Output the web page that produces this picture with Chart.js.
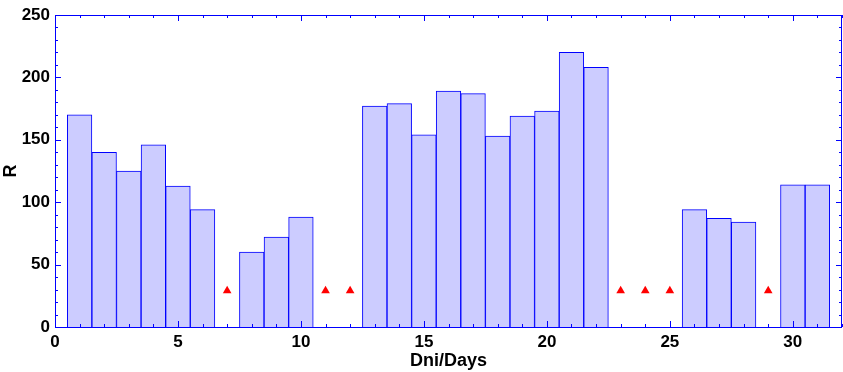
<!DOCTYPE html>
<html>
<head>
<meta charset="utf-8">
<script src="https://cdn.jsdelivr.net/npm/chart.js@4.4.1/dist/chart.umd.min.js"></script>
<style>
  html, body { margin: 0; padding: 0; background: #fff; }
  #wrap { width: 843px; height: 372px; }
</style>
</head>
<body>
<div id="wrap"><canvas id="chart" width="843" height="372"></canvas></div>
<script>
// データ
const DAYS = [1, 2, 3, 4, 5, 6, 8, 9, 10, 13, 14, 15, 16, 17, 18, 19, 20, 21, 22, 26, 27, 28, 30, 31];
const R_VALUES = [170, 140, 125, 146, 113, 94, 60, 72, 88, 177, 179, 154, 189, 187, 153, 169, 173, 220, 208, 94, 87, 84, 114, 114];
const MISSING_DAYS = [7, 11, 12, 23, 24, 25, 29];
const MISSING_LEVEL = [29, 29, 29, 29, 29, 29, 29];
const X_TICKS = [0, 5, 10, 15, 20, 25, 30];
const Y_TICKS = [0, 50, 100, 150, 200, 250];

const BLUE = '#0000ff';
const FONT = "'Liberation Sans', Arial, sans-serif";

// 枠と内向きの目盛り
const framePlugin = {
    id: 'frame',
    afterDatasetsDraw(chart) {
        const { ctx, chartArea: a, scales: { x, y } } = chart;
        ctx.save();
        ctx.strokeStyle = BLUE;
        ctx.lineWidth = 1;
        ctx.beginPath();
        for (let v = 0; v <= 32; v++) {
            const px = Math.round(x.getPixelForValue(v)) + 0.5;
            const len = v % 5 === 0 ? 6 : 3;
            ctx.moveTo(px, a.bottom); ctx.lineTo(px, a.bottom - len);
            ctx.moveTo(px, a.top); ctx.lineTo(px, a.top + len);
        }
        for (let v = 0; v <= 250; v += 10) {
            const py = Math.round(y.getPixelForValue(v)) + 0.5;
            const len = v % 50 === 0 ? 6 : 3;
            ctx.moveTo(a.left, py); ctx.lineTo(a.left + len, py);
            ctx.moveTo(a.right, py); ctx.lineTo(a.right - len, py);
        }
        ctx.stroke();
        ctx.strokeRect(Math.round(a.left) + 0.5, Math.round(a.top) + 0.5,
            Math.round(a.right - a.left) - 1, Math.round(a.bottom - a.top));
        ctx.restore();
    }
};

new Chart(document.getElementById('chart'), {
    data: {
        datasets: [
            {
                type: 'bar',
                data: DAYS.map((d, i) => ({ x: d, y: R_VALUES[i] })),
                backgroundColor: '#ccccff',
                borderColor: BLUE,
                borderWidth: 1,
                barPercentage: 1,
                categoryPercentage: 1,
                order: 2
            },
            {
                type: 'scatter',
                data: MISSING_DAYS.map((d, i) => ({ x: d, y: MISSING_LEVEL[i] })),
                pointStyle: 'triangle',
                pointRadius: 5,
                backgroundColor: '#ff0000',
                borderColor: '#ff0000',
                borderWidth: 0,
                order: 1
            }
        ]
    },
    options: {
        responsive: false,
        animation: false,
        layout: { autoPadding: false, padding: { top: 15, right: 1, left: 0, bottom: 0 } },
        plugins: { legend: { display: false }, tooltip: { enabled: false } },
        scales: {
            x: {
                type: 'linear',
                min: 0,
                max: 32,
                offset: false,
                grid: { display: false, drawTicks: false },
                border: { display: false },
                afterBuildTicks: s => { s.ticks = X_TICKS.map(v => ({ value: v })); },
                afterFit: s => { s.height = 45; s.paddingLeft = 0; s.paddingRight = 0; },
                ticks: { color: '#000', padding: 5, maxRotation: 0, font: { family: FONT, size: 17, weight: 'bold' } },
                title: { display: true, text: 'Dni/Days', color: '#000', padding: 0, font: { family: FONT, size: 18, weight: 'bold' } }
            },
            y: {
                min: 0,
                max: 250,
                grid: { display: false, drawTicks: false },
                border: { display: false },
                afterBuildTicks: s => { s.ticks = Y_TICKS.map(v => ({ value: v })); },
                afterFit: s => { s.width = 55; s.paddingTop = 0; s.paddingBottom = 0; },
                ticks: { color: '#000', padding: 5, font: { family: FONT, size: 17, weight: 'bold' } },
                title: { display: true, text: 'R', color: '#000', padding: 0, font: { family: FONT, size: 18, weight: 'bold' } }
            }
        }
    },
    plugins: [framePlugin]
});
</script>
</body>
</html>
